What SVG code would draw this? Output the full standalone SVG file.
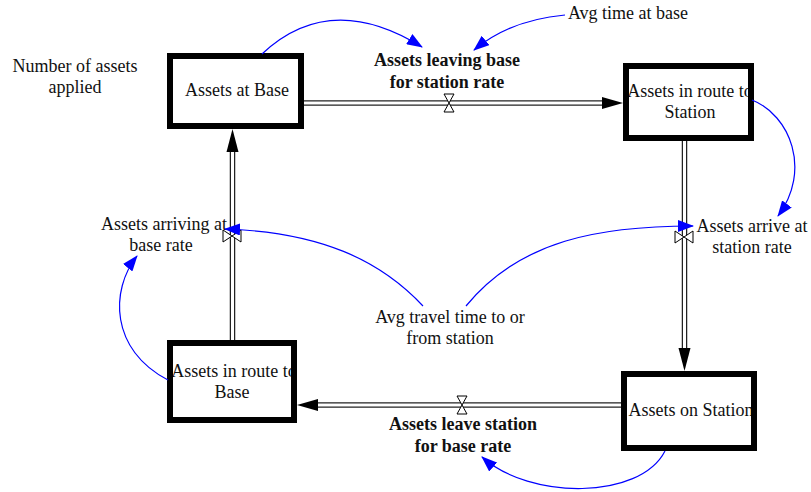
<svg xmlns="http://www.w3.org/2000/svg" width="811" height="492" viewBox="0 0 811 492">
<style>
  text { font-family: "Liberation Serif", "Times New Roman", serif; font-size: 18px; fill: #111; text-anchor: middle; }
  .b { font-weight: bold; }
  .box { fill: white; stroke: none; }
  .border { fill: none; stroke: #000; stroke-width: 6; }
  .pipeO { stroke: #222; stroke-width: 5.5; fill: none; }
  .pipeI { stroke: #fff; stroke-width: 3; fill: none; }
  .valve { fill: #fff; stroke: #000; stroke-width: 1; }
  .head { fill: #000; }
  .link { fill: none; stroke: #0000ff; stroke-width: 1.2; marker-end: url(#blue); }
</style>
<defs>
  <marker id="blue" viewBox="0 0 16 12" refX="15" refY="6" markerWidth="16" markerHeight="12" markerUnits="userSpaceOnUse" orient="auto">
    <path d="M0,0 L16,6 L0,12 Z" fill="#0000ff"/>
  </marker>
</defs>
<rect width="811" height="492" fill="#fff"/>

<g id="assets-at-base">
  <rect class="box" x="170" y="56" width="131" height="70"/>
  <text x="237" y="96">Assets at Base</text>
  <rect class="border" x="170" y="56" width="131" height="70"/>
</g>
<g id="assets-in-route-to-station">
  <rect class="box" x="626" y="66" width="125" height="72"/>
  <text x="690" y="97">Assets in route to</text>
  <text x="690" y="118">Station</text>
  <rect class="border" x="626" y="66" width="125" height="72"/>
</g>
<g id="assets-in-route-to-base">
  <rect class="box" x="170" y="343" width="124" height="77"/>
  <text x="234" y="377">Assets in route to</text>
  <text x="232" y="398">Base</text>
  <rect class="border" x="170" y="343" width="124" height="77"/>
</g>
<g id="assets-on-station">
  <rect class="box" x="624" y="374" width="130" height="74"/>
  <text x="691" y="416">Assets on Station</text>
  <rect class="border" x="624" y="374" width="130" height="74"/>
</g>

<g id="number-of-assets-applied">
  <text x="75" y="72">Number of assets</text>
  <text x="75" y="93">applied</text>
</g>
<g id="avg-time-at-base">
  <text x="628" y="19">Avg time at base</text>
</g>
<g id="avg-travel-time">
  <text x="450" y="323">Avg travel time to or</text>
  <text x="450" y="344">from station</text>
</g>
<g id="rate-leaving-base">
  <text class="b" x="447" y="66">Assets leaving base</text>
  <text class="b" x="447" y="88">for station rate</text>
</g>
<g id="rate-arrive-station">
  <text x="752" y="232">Assets arrive at</text>
  <text x="752" y="253">station rate</text>
</g>
<g id="rate-leave-station">
  <text class="b" x="463" y="430">Assets leave station</text>
  <text class="b" x="463" y="452">for base rate</text>
</g>
<g id="rate-arriving-base">
  <text x="164" y="230">Assets arriving at</text>
  <text x="161" y="251">base rate</text>
</g>

<g id="connectors">
  <g id="flows">
    <path class="pipeO" d="M304,103 H603"/>
    <path class="pipeI" d="M304,103 H603"/>
    <path class="head" d="M602,97 L623,103 L602,109 Z"/>
    <path class="pipeO" d="M684.5,141 V349"/>
    <path class="pipeI" d="M684.5,141 V349"/>
    <path class="head" d="M678.5,348 L684.5,371 L690.5,348 Z"/>
    <path class="pipeO" d="M621,405 H317"/>
    <path class="pipeI" d="M621,405 H317"/>
    <path class="head" d="M318,399 L297,405 L318,411 Z"/>
    <path class="pipeO" d="M232.5,340 V151"/>
    <path class="pipeI" d="M232.5,340 V151"/>
    <path class="head" d="M226.5,152 L232.5,129 L238.5,152 Z"/>
    <path class="valve" d="M444,94 L454,94 L444,112 L454,112 Z"/>
    <path class="valve" d="M457,396 L467,396 L457,414 L467,414 Z"/>
    <path class="valve" d="M675,231 L675,243 L693,231 L693,243 Z"/>
    <path class="valve" d="M223,230 L223,242 L241,230 L241,242 Z"/>
  </g>
  <g id="links">
    <path class="link" d="M262,54 Q330,-10 422,47"/>
    <path class="link" d="M565,15 Q510,20 474,50"/>
    <path class="link" d="M752,100 C790,115 812,170 778,216"/>
    <path class="link" d="M466,306 C520,240 600,226 693,226"/>
    <path class="link" d="M423,306 C380,260 320,232 225,229"/>
    <path class="link" d="M168,380 C110,350 110,290 137,256"/>
    <path class="link" d="M665,451 C640,500 530,500 482,457"/>
  </g>
</g>
</svg>
